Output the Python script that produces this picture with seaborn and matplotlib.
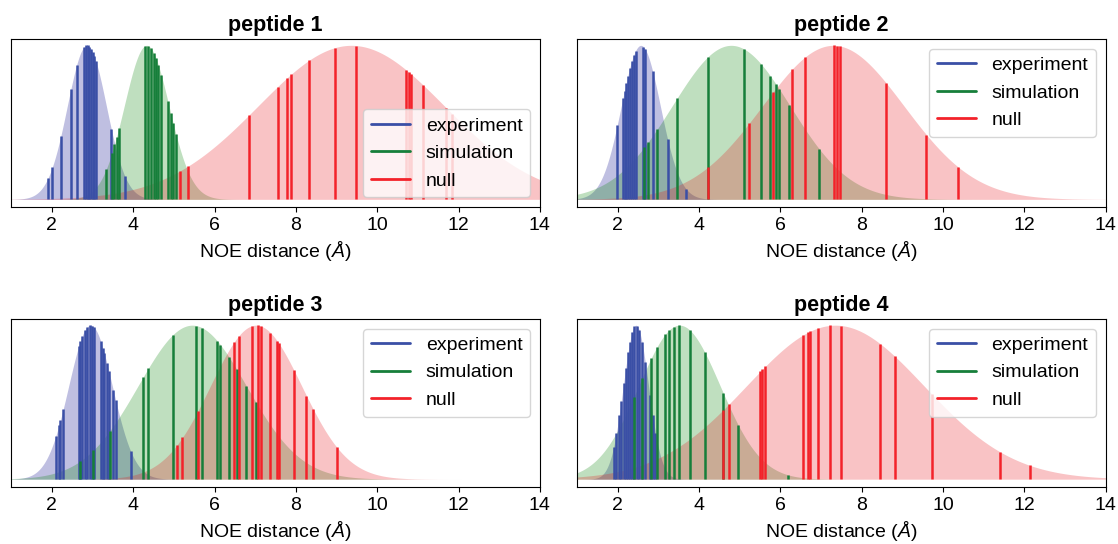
import numpy as np
import matplotlib
matplotlib.use('Agg')
import matplotlib.pyplot as plt
import seaborn as sns

sns.set_style('ticks')
plt.rcParams['font.family'] = ['Liberation Sans', 'DejaVu Sans']
plt.rcParams['mathtext.fontset'] = 'custom'
plt.rcParams['mathtext.it'] = 'Liberation Sans:italic'
plt.rcParams['text.color'] = 'black'
plt.rcParams['axes.labelcolor'] = 'black'
plt.rcParams['xtick.color'] = 'black'
font_size = 14

titles = ['peptide 1', 'peptide 2', 'peptide 3', 'peptide 4']
series = ['experiment', 'simulation', 'null']

# NOE distances, one list per series and peptide
experiment = [
    [1.90, 2.01, 2.22, 2.47, 2.61, 2.80, 2.84, 2.88, 2.92, 2.96, 3.00, 3.04, 3.08, 3.46, 3.79],
    [1.99, 2.13, 2.17, 2.21, 2.25, 2.30, 2.35, 2.40, 2.44, 2.63, 2.68, 2.86, 3.23, 3.69],
    [2.10, 2.18, 2.21, 2.28, 2.66, 2.70, 2.75, 2.81, 2.87, 2.93, 2.99, 3.04, 3.20, 3.25,
     3.29, 3.35, 3.40, 3.51, 3.57, 3.94],
    [1.90, 1.97, 2.04, 2.09, 2.15, 2.20, 2.26, 2.30, 2.36, 2.41, 2.48, 2.53, 2.60, 2.68,
     2.79, 2.86, 2.93],
]
simulation = [
    [3.34, 3.48, 3.54, 3.59, 3.65, 4.30, 4.37, 4.43, 4.50, 4.56, 4.62, 4.69, 4.85, 4.92,
     4.98, 5.05],
    [2.66, 2.75, 2.98, 3.47, 4.22, 5.10, 5.53, 5.75, 5.89, 5.97, 6.22, 6.96],
    [2.69, 3.02, 3.43, 4.24, 4.37, 4.97, 5.55, 5.69, 6.06, 6.14, 6.35, 6.54, 6.78, 7.01],
    [2.40, 2.60, 2.83, 2.97, 3.17, 3.27, 3.38, 3.50, 3.77, 4.14, 4.60, 4.96, 6.18],
]
null = [
    [5.16, 5.34, 6.84, 7.55, 7.79, 7.88, 8.32, 8.96, 9.48, 10.71, 10.78, 10.83, 11.12,
     11.69, 11.84],
    [4.22, 5.23, 5.82, 6.29, 6.61, 7.31, 7.39, 7.46, 8.61, 9.59, 10.36],
    [5.08, 5.21, 5.59, 6.48, 6.60, 6.91, 7.07, 7.15, 7.37, 7.54, 7.58, 7.95, 8.26, 8.42,
     9.01],
    [4.58, 4.73, 5.51, 5.56, 5.63, 6.55, 6.69, 6.73, 6.93, 7.23, 7.50, 8.46, 8.82, 9.72,
     11.41, 12.13],
]

# gaussian fit (mean, std) of each series
exp_fit = [(2.86, 0.48), (2.57, 0.48), (2.95, 0.535), (2.45, 0.31)]
sim_fit = [(4.33, 0.55), (4.79, 1.45), (5.45, 1.33), (3.52, 1.00)]
null_fit = [(9.36, 2.29), (7.30, 1.74), (7.02, 1.12), (7.35, 2.18)]

line_colors = ['#3a4fa6', '#167f3a', '#f3222a']
fill_colors = ['darkblue', 'green', '#e8121a']
legend_locs = ['lower right', 'upper right', 'upper right', 'upper right']


def bump(x, mu, sd):
    # gaussian scaled to a peak of 1
    return np.exp(-(np.asarray(x) - mu) ** 2 / (2 * sd ** 2))


grid = np.linspace(1, 14, 600)

fig, axes = plt.subplots(2, 2, figsize=(11.18, 5.44), dpi=100)
plt.subplots_adjust(left=0.01, right=0.989, top=0.928, bottom=0.105, wspace=0.07, hspace=0.667)

for i, ax in enumerate(axes.flat):
    groups = [experiment[i], simulation[i], null[i]]
    fits = [exp_fit[i], sim_fit[i], null_fit[i]]
    for pts, (mu, sd), lc, fc, name in zip(groups, fits, line_colors, fill_colors, series):
        ax.fill_between(grid, 0, bump(grid, mu, sd), color=fc, alpha=0.25, lw=0)
        ax.vlines(pts, 0, bump(pts, mu, sd), color=lc, lw=1.8)
        ax.plot([], [], color=lc, lw=2, label=name)
    ax.set_xlim(1, 14)
    ax.set_ylim(-0.05, 1.04)
    ax.set_yticks([])
    ax.set_xticks(np.arange(2, 15, 2))
    ax.tick_params(axis='x', labelsize=font_size)
    ax.set_xlabel(r'NOE distance ($Å$)', fontsize=font_size)
    ax.set_title(titles[i], fontsize=font_size + 1.5, fontweight='bold')
    for s in ax.spines.values():
        s.set_color('black')
    ax.legend(loc=legend_locs[i], fontsize=font_size)

plt.savefig('out.png', dpi=100)
